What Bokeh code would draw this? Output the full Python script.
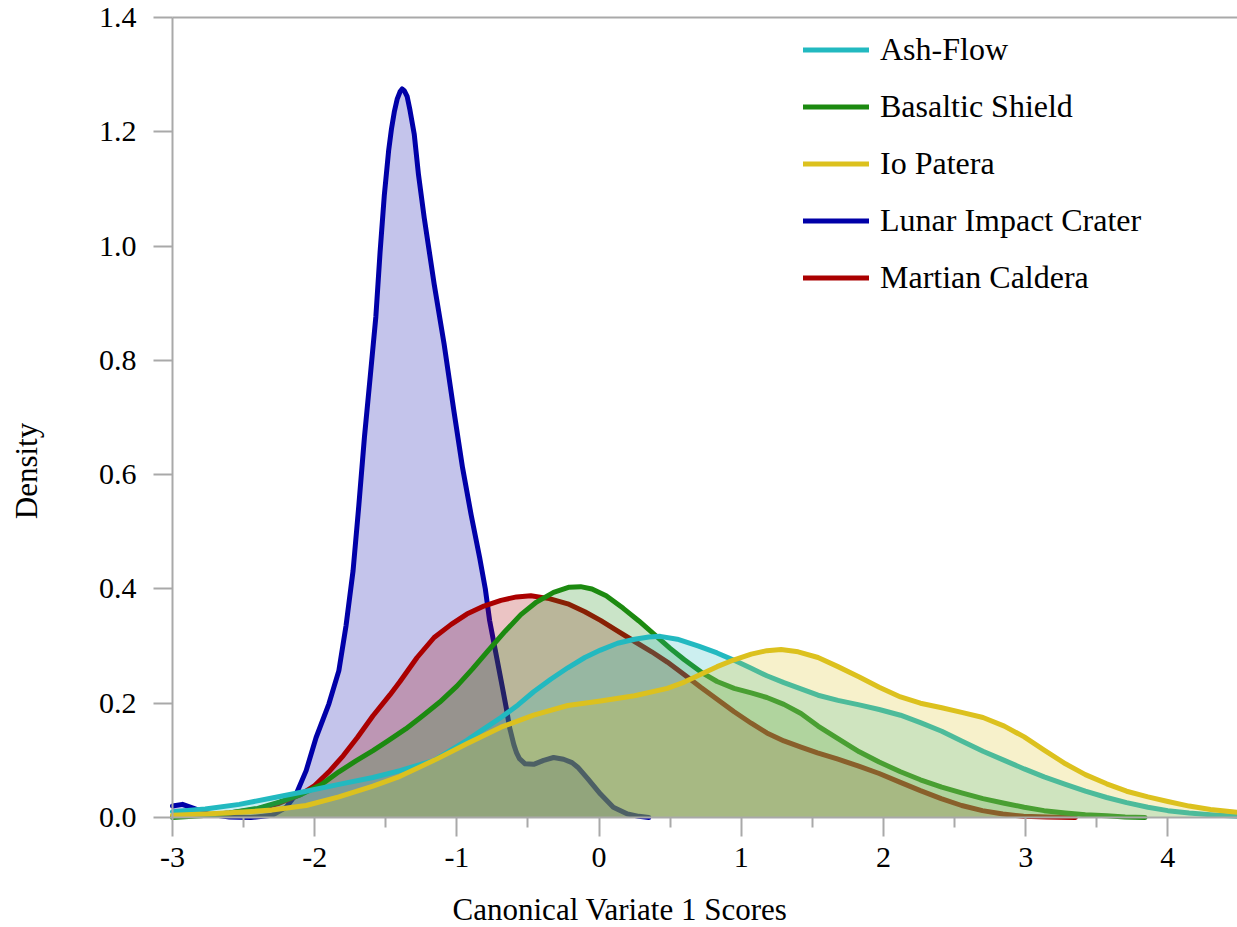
from bokeh.plotting import figure
from bokeh.models import Legend, LegendItem, FixedTicker, Label, Range1d, LinearAxis
from bokeh.embed import file_html
from bokeh.resources import INLINE
import math

# ---------------- data ----------------
series_names = ["Ash-Flow", "Basaltic Shield", "Io Patera", "Lunar Impact Crater", "Martian Caldera"]

lunar_x = [-3.0, -2.93, -2.85, -2.75, -2.6, -2.45, -2.3, -2.2, -2.13, -2.06, -1.99, -1.90, -1.83, -1.78,
           -1.73, -1.69, -1.65, -1.61, -1.57, -1.54, -1.51, -1.48, -1.46, -1.44, -1.42, -1.40, -1.385,
           -1.37, -1.35, -1.33, -1.30, -1.27, -1.23, -1.16, -1.09, -1.02, -0.96, -0.90, -0.84, -0.80,
           -0.77, -0.72, -0.68, -0.65, -0.63, -0.60, -0.58, -0.56, -0.52, -0.46, -0.39, -0.32, -0.25,
           -0.19, -0.15, -0.08, 0.01, 0.10, 0.20, 0.28, 0.35]
lunar_y = [0.020, 0.023, 0.016, 0.006, 0.001, 0.000, 0.004, 0.018, 0.041, 0.082, 0.140, 0.199, 0.257, 0.335,
           0.432, 0.545, 0.666, 0.770, 0.876, 0.990, 1.090, 1.167, 1.205, 1.235, 1.257, 1.270, 1.275,
           1.272, 1.262, 1.238, 1.196, 1.125, 1.050, 0.934, 0.829, 0.710, 0.612, 0.530, 0.455, 0.400,
           0.345, 0.280, 0.228, 0.188, 0.158, 0.128, 0.113, 0.103, 0.094, 0.093, 0.100, 0.105, 0.102,
           0.096, 0.088, 0.068, 0.041, 0.018, 0.006, 0.002, 0.000]

martian_x = [-3.0, -2.8, -2.6, -2.4, -2.25, -2.1, -2.0, -1.9, -1.8, -1.7, -1.59, -1.47, -1.40, -1.28,
             -1.16, -1.04, -0.93, -0.81, -0.69, -0.58, -0.48, -0.35, -0.22, -0.10, 0.01, 0.12, 0.25,
             0.37, 0.48, 0.60, 0.715, 0.83, 0.95, 1.07, 1.18, 1.30, 1.42, 1.536, 1.68, 1.826, 1.97,
             2.115, 2.26, 2.406, 2.55, 2.696, 2.84, 2.985, 3.15, 3.35]
martian_y = [0.002, 0.004, 0.008, 0.015, 0.025, 0.040, 0.056, 0.080, 0.108, 0.140, 0.178, 0.215, 0.238, 0.280,
             0.315, 0.338, 0.356, 0.370, 0.380, 0.386, 0.388, 0.383, 0.374, 0.360, 0.345, 0.328, 0.308,
             0.290, 0.272, 0.250, 0.228, 0.207, 0.185, 0.165, 0.148, 0.134, 0.123, 0.113, 0.102, 0.090, 0.077,
             0.062, 0.047, 0.033, 0.021, 0.012, 0.006, 0.002, 0.001, 0.000]

basaltic_x = [-3.0, -2.8, -2.6, -2.4, -2.25, -2.1, -1.95, -1.83, -1.71, -1.59, -1.48, -1.36, -1.24, -1.12,
              -1.00, -0.89, -0.78, -0.66, -0.55, -0.44, -0.32, -0.21, -0.13, -0.05, 0.05, 0.17, 0.28,
              0.39, 0.50, 0.60, 0.72, 0.83, 0.95, 1.07, 1.18, 1.30, 1.42, 1.54, 1.68, 1.83, 1.97, 2.12,
              2.26, 2.41, 2.55, 2.70, 2.85, 2.99, 3.13, 3.28, 3.42, 3.57, 3.70, 3.84]
basaltic_y = [0.000, 0.003, 0.008, 0.016, 0.027, 0.040, 0.058, 0.080, 0.099, 0.117, 0.135, 0.155, 0.178, 0.202,
              0.230, 0.260, 0.292, 0.326, 0.355, 0.377, 0.394, 0.403, 0.404, 0.400, 0.388, 0.366, 0.344,
              0.320, 0.296, 0.276, 0.254, 0.238, 0.226, 0.218, 0.210, 0.198, 0.182, 0.160, 0.138, 0.115,
              0.097, 0.080, 0.066, 0.053, 0.043, 0.033, 0.025, 0.018, 0.012, 0.008, 0.005, 0.003, 0.001, 0.000]

ash_x = [-3.0, -2.77, -2.53, -2.30, -2.06, -1.83, -1.59, -1.40, -1.16, -0.93, -0.81, -0.69, -0.57, -0.46,
         -0.34, -0.22, -0.10, 0.01, 0.13, 0.25, 0.35, 0.43, 0.55, 0.70, 0.83, 0.95, 1.07, 1.18, 1.30, 1.42,
         1.54, 1.68, 1.83, 1.97, 2.12, 2.26, 2.41, 2.55, 2.70, 2.85, 2.99, 3.13, 3.28, 3.42, 3.57, 3.71,
         3.86, 4.00, 4.15, 4.30, 4.49]
ash_y = [0.010, 0.015, 0.023, 0.034, 0.046, 0.058, 0.070, 0.082, 0.100, 0.135, 0.155, 0.175, 0.197, 0.220,
         0.242, 0.262, 0.280, 0.293, 0.305, 0.312, 0.316, 0.317, 0.312, 0.300, 0.288, 0.275, 0.261, 0.248,
         0.236, 0.225, 0.214, 0.205, 0.197, 0.189, 0.179, 0.166, 0.151, 0.134, 0.116, 0.100, 0.085, 0.071,
         0.058, 0.046, 0.035, 0.026, 0.018, 0.012, 0.008, 0.005, 0.002]

io_x = [-3.0, -2.77, -2.53, -2.30, -2.06, -1.83, -1.59, -1.40, -1.16, -0.93, -0.69, -0.46, -0.22, 0.01,
        0.25, 0.48, 0.60, 0.72, 0.83, 0.95, 1.07, 1.18, 1.28, 1.40, 1.54, 1.68, 1.83, 1.97, 2.12, 2.26,
        2.41, 2.55, 2.70, 2.85, 2.99, 3.13, 3.28, 3.42, 3.57, 3.71, 3.86, 4.00, 4.15, 4.30, 4.49]
io_y = [0.004, 0.006, 0.009, 0.013, 0.021, 0.036, 0.055, 0.072, 0.100, 0.129, 0.158, 0.179, 0.196, 0.204,
        0.213, 0.226, 0.237, 0.251, 0.264, 0.276, 0.286, 0.292, 0.294, 0.290, 0.280, 0.264, 0.246, 0.228,
        0.211, 0.200, 0.192, 0.184, 0.175, 0.160, 0.141, 0.118, 0.094, 0.075, 0.059, 0.046, 0.036, 0.028,
        0.020, 0.014, 0.009]

x_ticks = [-3, -2, -1, 0, 1, 2, 3, 4]
x_tick_labels = ["-3", "-2", "-1", "0", "1", "2", "3", "4"]
x_minor_ticks = [-2.5, -1.5, -0.5, 0.5, 1.5, 2.5, 3.5, 4.5]
y_ticks = [0.0, 0.2, 0.4, 0.6, 0.8, 1.0, 1.2, 1.4]
y_tick_labels = ["0.0", "0.2", "0.4", "0.6", "0.8", "1.0", "1.2", "1.4"]

x_title = "Canonical Variate 1 Scores"
y_title = "Density"

colors = {
    "Ash-Flow": "#22b9c0",
    "Basaltic Shield": "#1c8a10",
    "Io Patera": "#dcc11e",
    "Lunar Impact Crater": "#0000a8",
    "Martian Caldera": "#aa0000",
}

FONT = "Liberation Serif"
AXIS_GRAY = "#a9a9a9"

# ---------------- layout: the frame covers the whole canvas; axes are fixed inside ----------------
W, H = 1237, 927
PLOT_L, PLOT_T, PLOT_B = 172, 17, 817          # pixel position of the data box
DATA_X0, DATA_X1 = -3.0, 4.49
DATA_Y0, DATA_Y1 = 0.0, 1.4
kx = (W - PLOT_L) / (DATA_X1 - DATA_X0)
ky = (PLOT_B - PLOT_T) / (DATA_Y1 - DATA_Y0)
x_start = DATA_X0 - PLOT_L / kx
y_start = DATA_Y0 - (H - PLOT_B) / ky
y_end = DATA_Y1 + PLOT_T / ky

p = figure(width=W, height=H, x_range=Range1d(x_start, DATA_X1), y_range=Range1d(y_start, y_end),
           output_backend="svg", toolbar_location=None,
           min_border_left=0, min_border_right=0, min_border_top=0, min_border_bottom=0)
p.outline_line_color = None
p.xgrid.visible = False
p.ygrid.visible = False
p.background_fill_color = "white"
p.border_fill_color = "white"

# draw order (fills overlay earlier lines)
draw_order = [
    ("Lunar Impact Crater", lunar_x, lunar_y),
    ("Martian Caldera", martian_x, martian_y),
    ("Basaltic Shield", basaltic_x, basaltic_y),
    ("Ash-Flow", ash_x, ash_y),
    ("Io Patera", io_x, io_y),
]
line_renderers = {}
for name, xs, ys in draw_order:
    c = colors[name]
    p.varea(x=xs, y1=[0] * len(ys), y2=ys, fill_color=c, fill_alpha=0.23)
    line_renderers[name] = p.line(xs, ys, line_color=c, line_width=5, line_join="round", line_cap="round")

# axes
xa = p.xaxis[0]
xa.ticker = FixedTicker(ticks=x_ticks, minor_ticks=x_minor_ticks)
xa.major_label_overrides = {t: l for t, l in zip(x_ticks, x_tick_labels)}
xa.fixed_location = DATA_Y0
xa.bounds = (DATA_X0, DATA_X1)
ya = p.yaxis[0]
ya.ticker = FixedTicker(ticks=y_ticks, minor_ticks=[])
ya.major_label_overrides = {t: l for t, l in zip(y_ticks, y_tick_labels)}
ya.fixed_location = DATA_X0
ya.bounds = (DATA_Y0, DATA_Y1)
top = LinearAxis(ticker=FixedTicker(ticks=[], minor_ticks=[]), fixed_location=DATA_Y1,
                 bounds=(DATA_X0, DATA_X1))
p.add_layout(top, "above")
for ax in (xa, ya, top):
    ax.axis_line_color = AXIS_GRAY
    ax.axis_line_width = 2
    ax.major_tick_line_color = AXIS_GRAY
    ax.major_tick_line_width = 2
    ax.minor_tick_line_color = AXIS_GRAY
    ax.minor_tick_line_width = 2
    ax.major_tick_out = 19
    ax.major_tick_in = 0
    ax.minor_tick_out = 10
    ax.minor_tick_in = 0
    ax.major_label_text_font = FONT
    ax.major_label_text_font_size = "30px"
    ax.major_label_text_color = "black"
xa.major_label_standoff = 11
ya.major_label_standoff = 17

# axis titles (placed in data space of the full-canvas frame)
p.add_layout(Label(x=x_start + 619.5 / kx, y=DATA_Y0 - (908.5 - PLOT_B) / ky, text=x_title,
                   text_font=FONT, text_font_size="31px", text_align="center",
                   text_baseline="alphabetic", text_color="black"))
p.add_layout(Label(x=x_start + 26 / kx, y=DATA_Y0 + (PLOT_B - 470.5) / ky, text=y_title,
                   text_font=FONT, text_font_size="31px", text_align="center", angle=math.pi / 2,
                   text_baseline="alphabetic", text_color="black"))

legend = Legend(items=[LegendItem(label=n, renderers=[line_renderers[n]]) for n in series_names],
                location=(803, H - 296), orientation="vertical", padding=0, margin=0, spacing=20,
                glyph_width=66, glyph_height=37, label_height=37, label_standoff=11,
                label_text_font=FONT, label_text_font_size="32px", label_text_color="black",
                border_line_color=None, background_fill_alpha=0)
p.add_layout(legend)

open("out.html", "w").write(file_html(p, INLINE))
